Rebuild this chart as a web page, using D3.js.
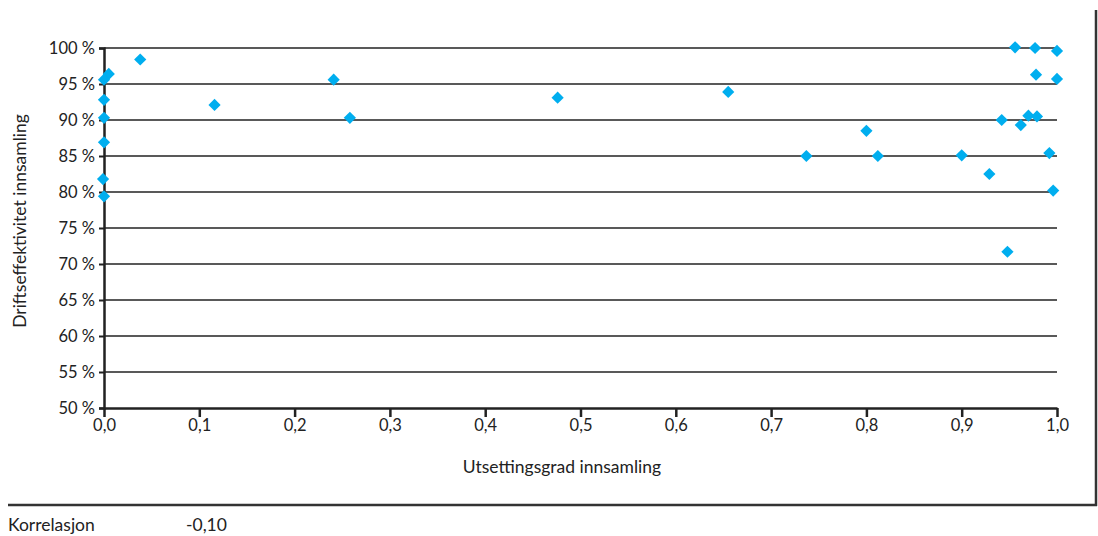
<!DOCTYPE html>
<html>
<head>
<meta charset="utf-8">
<script src="https://cdn.jsdelivr.net/npm/d3@7"></script>
<style>
  html, body { margin: 0; padding: 0; background: #fff; }
  svg text { font-family: Lato, "Open Sans", sans-serif; fill: #222; }
</style>
</head>
<body>
<svg id="chart" width="1098" height="536"></svg>
<script>
// Utsettingsgrad (x) and driftseffektivitet (y, %) per kommune/selskap
const utsettingsgrad = [
  0.038, 0.005, 0.000, 0.000, 0.000, 0.000, -0.001, 0.000,
  0.116, 0.241, 0.258, 0.476, 0.655, 0.737, 0.800, 0.812,
  0.900, 0.929, 0.948, 0.942, 0.956, 0.962, 0.970, 0.977,
  0.978, 0.979, 0.992, 0.996, 1.000, 1.000
];
const driftseffektivitet = [
  98.4, 96.4, 95.6, 92.8, 90.3, 86.9, 81.8, 79.4,
  92.1, 95.6, 90.3, 93.1, 93.9, 85.0, 88.5, 85.0,
  85.1, 82.5, 71.7, 90.0, 100.1, 89.3, 90.6, 100.0,
  96.3, 90.5, 85.4, 80.2, 99.6, 95.7
];
const xTicks = [0, 0.1, 0.2, 0.3, 0.4, 0.5, 0.6, 0.7, 0.8, 0.9, 1.0];
const yTicks = [50, 55, 60, 65, 70, 75, 80, 85, 90, 95, 100];
const korrelasjon = "-0,10";

const svg = d3.select("#chart");
const plotLeft = 104, plotRight = 1057, plotTop = 48, plotBottom = 408;

const x = d3.scaleLinear().domain([0, 1]).range([plotLeft, plotRight]);
const y = d3.scaleLinear().domain([50, 100]).range([plotBottom, plotTop]);
const comma = v => d3.format(".1f")(v).replace(".", ",");

// outer frame: right edge and bottom rule
svg.append("line").attr("x1", 1096).attr("x2", 1096).attr("y1", 10).attr("y2", 506)
  .attr("stroke", "#333").attr("stroke-width", 2.5);
svg.append("line").attr("x1", 8).attr("x2", 1097).attr("y1", 505).attr("y2", 505)
  .attr("stroke", "#333").attr("stroke-width", 2.5);

// horizontal gridlines
svg.append("g").selectAll("line").data(yTicks.filter(t => t > 50)).join("line")
  .attr("x1", plotLeft).attr("x2", plotRight)
  .attr("y1", d => y(d)).attr("y2", d => y(d))
  .attr("stroke", "#222").attr("stroke-width", 1.3);

// y axis
const yAxis = svg.append("g").attr("transform", `translate(${plotLeft},0)`)
  .call(d3.axisLeft(y).tickValues(yTicks).tickSize(5).tickPadding(4)
    .tickFormat(d => d + " %"));
yAxis.select(".domain").attr("stroke", "#222").attr("stroke-width", 2.5);
yAxis.selectAll(".tick line").attr("stroke", "#222").attr("stroke-width", 2);
yAxis.selectAll(".tick text").attr("font-size", 16.5).attr("fill", "#222")
  .attr("font-family", "Lato, sans-serif");

// x axis
const xAxis = svg.append("g").attr("transform", `translate(0,${plotBottom})`)
  .call(d3.axisBottom(x).tickValues(xTicks).tickSizeInner(9).tickSizeOuter(0)
    .tickPadding(2).tickFormat(comma));
xAxis.select(".domain").attr("stroke", "#222").attr("stroke-width", 2.5);
xAxis.selectAll(".tick line").attr("stroke", "#222").attr("stroke-width", 2.5);
xAxis.selectAll(".tick text").attr("font-size", 16.5).attr("fill", "#222")
  .attr("font-family", "Lato, sans-serif");

// axis titles
svg.append("text").attr("x", 562).attr("y", 473).attr("text-anchor", "middle")
  .attr("font-size", 17.5).text("Utsettingsgrad innsamling");
svg.append("text").attr("transform", "translate(26,221) rotate(-90)")
  .attr("text-anchor", "middle").attr("font-size", 17.5)
  .text("Driftseffektivitet innsamling");

// data points as diamonds
const diamond = d3.symbol().type(d3.symbolDiamond2).size(95);
svg.append("g").selectAll("path").data(d3.range(utsettingsgrad.length)).join("path")
  .attr("d", diamond)
  .attr("transform", i => `translate(${x(utsettingsgrad[i])},${y(driftseffektivitet[i])})`)
  .attr("fill", "#00AEEF");

// correlation footer
svg.append("text").attr("x", 8).attr("y", 531).attr("font-size", 17.5).text("Korrelasjon");
svg.append("text").attr("x", 186).attr("y", 531).attr("font-size", 17.5).text(korrelasjon);
</script>
</body>
</html>
